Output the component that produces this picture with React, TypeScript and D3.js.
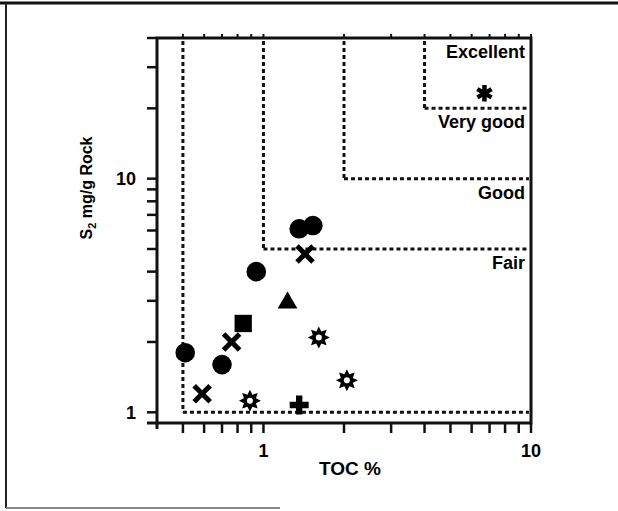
import React from 'react';
import * as d3 from 'd3';

// TOC thresholds and S2 thresholds for the source rock classes
const tocLimits = [0.5, 1, 2, 4];
const s2Limits = [1, 5, 10, 20];
const classLabels = ['Fair', 'Good', 'Very good', 'Excellent'];

const xTicks = [0.5, 0.6, 0.7, 0.8, 0.9, 1, 2, 3, 4, 5, 6, 7, 8, 9, 10];
const xTickLabels = [1, 10];
const yTicks = [1, 2, 3, 4, 5, 6, 7, 8, 9, 10, 20, 30, 40];
const yTickLabels = [1, 10];

// samples, grouped by marker
const tocCircle = [1.36, 1.53, 0.94, 0.7, 0.51];
const s2Circle = [6.1, 6.3, 4.0, 1.6, 1.8];
const tocCross = [1.43, 0.76, 0.59];
const s2Cross = [4.76, 2.0, 1.2];
const tocSquare = [0.84];
const s2Square = [2.4];
const tocTriangle = [1.23];
const s2Triangle = [2.94];
const tocStar = [1.61, 2.05, 0.89];
const s2Star = [2.09, 1.37, 1.12];
const tocPlus = [1.36];
const s2Plus = [1.075];
const tocAsterisk = [6.7];
const s2Asterisk = [23.2];

const W = 618;
const H = 511;
const left = 157, right = 531, top = 38, bottom = 423;
const font = '"Liberation Sans", Arial, sans-serif';

const zip = (a: number[], b: number[]) => a.map((v, i) => [v, b[i]] as [number, number]);

const App: React.FC = () => {
    const x = d3.scaleLog().domain([0.4, 10]).range([left, right]);
    const y = d3.scaleLog().domain([0.9, 40]).range([bottom, top]);

    const circle = d3.symbol(d3.symbolCircle, 300)()!;
    const square = d3.symbol(d3.symbolSquare, 300)()!;
    const triangle = d3.symbol(d3.symbolTriangle, 170)()!;
    const plus = d3.symbol(d3.symbolCross, 200)()!;
    const asterisk = d3.symbol(d3.symbolAsterisk, 190)()!;

    // 8-point sun with a hole in the middle
    const sunPts: [number, number][] = d3.range(16).map(i => [
        (i * Math.PI) / 8,
        i % 2 === 0 ? 11 : 6.5,
    ]);
    const sun = d3.lineRadial().curve(d3.curveLinearClosed)(sunPts)!;

    const dash = { stroke: '#111', strokeWidth: 3, strokeDasharray: '4,3', fill: 'none' };

    return (
        <svg width={W} height={H} style={{ position: 'fixed', left: 0, top: 0, background: '#fff' }}
             fontFamily={font} fontWeight="bold">
            {/* page frame */}
            <line x1={0} x2={W} y1={3} y2={3} stroke="#111" strokeWidth={3} />
            <line x1={6} x2={6} y1={3} y2={508} stroke="#222" strokeWidth={2} />
            <line x1={6} x2={280} y1={508} y2={508} stroke="#888" strokeWidth={2} />

            {/* class boundaries */}
            {tocLimits.map((t, i) => (
                <g key={'b' + i}>
                    <line x1={x(t)} x2={x(t)} y1={top + 3} y2={y(s2Limits[i])} style={dash} />
                    <line x1={x(t)} x2={right - 2} y1={y(s2Limits[i])} y2={y(s2Limits[i])} style={dash} />
                </g>
            ))}
            {classLabels.map((l, i) => {
                const yTop = i < 3 ? y(s2Limits[i + 1]) : top;
                return (
                    <text key={l} x={525} y={yTop + 20} textAnchor="end" fontSize={18} fill="#000">{l}</text>
                );
            })}

            {/* axes box */}
            <rect x={left} y={top} width={right - left} height={bottom - top} fill="none" stroke="#111" strokeWidth={3} />
            <line x1={left - 10} x2={left} y1={bottom} y2={bottom} stroke="#111" strokeWidth={3} />
            <line x1={left} x2={left} y1={bottom} y2={bottom + 6} stroke="#111" strokeWidth={3} />

            {xTicks.map(t => (
                <g key={'xt' + t}>
                    <line x1={x(t)} x2={x(t)} y1={bottom} y2={bottom + 10} stroke="#111" strokeWidth={2.5} />
                    <line x1={x(t)} x2={x(t)} y1={top} y2={top - 4} stroke="#111" strokeWidth={2} />
                </g>
            ))}
            {xTickLabels.map(t => (
                <text key={'xl' + t} x={x(t)} y={457} textAnchor="middle" fontSize={18} fill="#000">{t}</text>
            ))}
            {yTicks.map(t => (
                <line key={'yt' + t} x1={left - 10} x2={left} y1={y(t)} y2={y(t)} stroke="#111" strokeWidth={2.5} />
            ))}
            {yTickLabels.map(t => (
                <text key={'yl' + t} x={136} y={y(t)} dy="0.35em" textAnchor="end" fontSize={18} fill="#000">{t}</text>
            ))}

            <text x={350} y={475} textAnchor="middle" fontSize={19} fill="#000">TOC %</text>
            <text transform="translate(92,188) rotate(-90)" textAnchor="middle" fontSize={16} fill="#000">
                S<tspan fontSize={11} dy={4}>2</tspan><tspan dy={-4}> mg/g Rock</tspan>
            </text>

            {/* samples */}
            {zip(tocCircle, s2Circle).map(([a, b], i) => (
                <path key={'c' + i} d={circle} transform={`translate(${x(a)},${y(b)})`} fill="#000" />
            ))}
            {zip(tocSquare, s2Square).map(([a, b], i) => (
                <path key={'s' + i} d={square} transform={`translate(${x(a)},${y(b)})`} fill="#000" />
            ))}
            {zip(tocCross, s2Cross).map(([a, b], i) => (
                <g key={'x' + i} transform={`translate(${x(a)},${y(b)})`} stroke="#000" strokeWidth={5}>
                    <line x1={-8} y1={-8} x2={8} y2={8} />
                    <line x1={-8} y1={8} x2={8} y2={-8} />
                </g>
            ))}
            {zip(tocTriangle, s2Triangle).map(([a, b], i) => (
                <path key={'t' + i} d={triangle} transform={`translate(${x(a)},${y(b)})`} fill="#000" />
            ))}
            {zip(tocStar, s2Star).map(([a, b], i) => (
                <g key={'st' + i} transform={`translate(${x(a)},${y(b)})`}>
                    <path d={sun} fill="#000" />
                    <circle r={3} fill="#fff" />
                </g>
            ))}
            {zip(tocPlus, s2Plus).map(([a, b], i) => (
                <path key={'p' + i} d={plus} transform={`translate(${x(a)},${y(b)})`} fill="#000" />
            ))}
            {zip(tocAsterisk, s2Asterisk).map(([a, b], i) => (
                <path key={'a' + i} d={asterisk} transform={`translate(${x(a)},${y(b)})`}
                      fill="none" stroke="#000" strokeWidth={4.5} />
            ))}
        </svg>
    );
};

export default App;
